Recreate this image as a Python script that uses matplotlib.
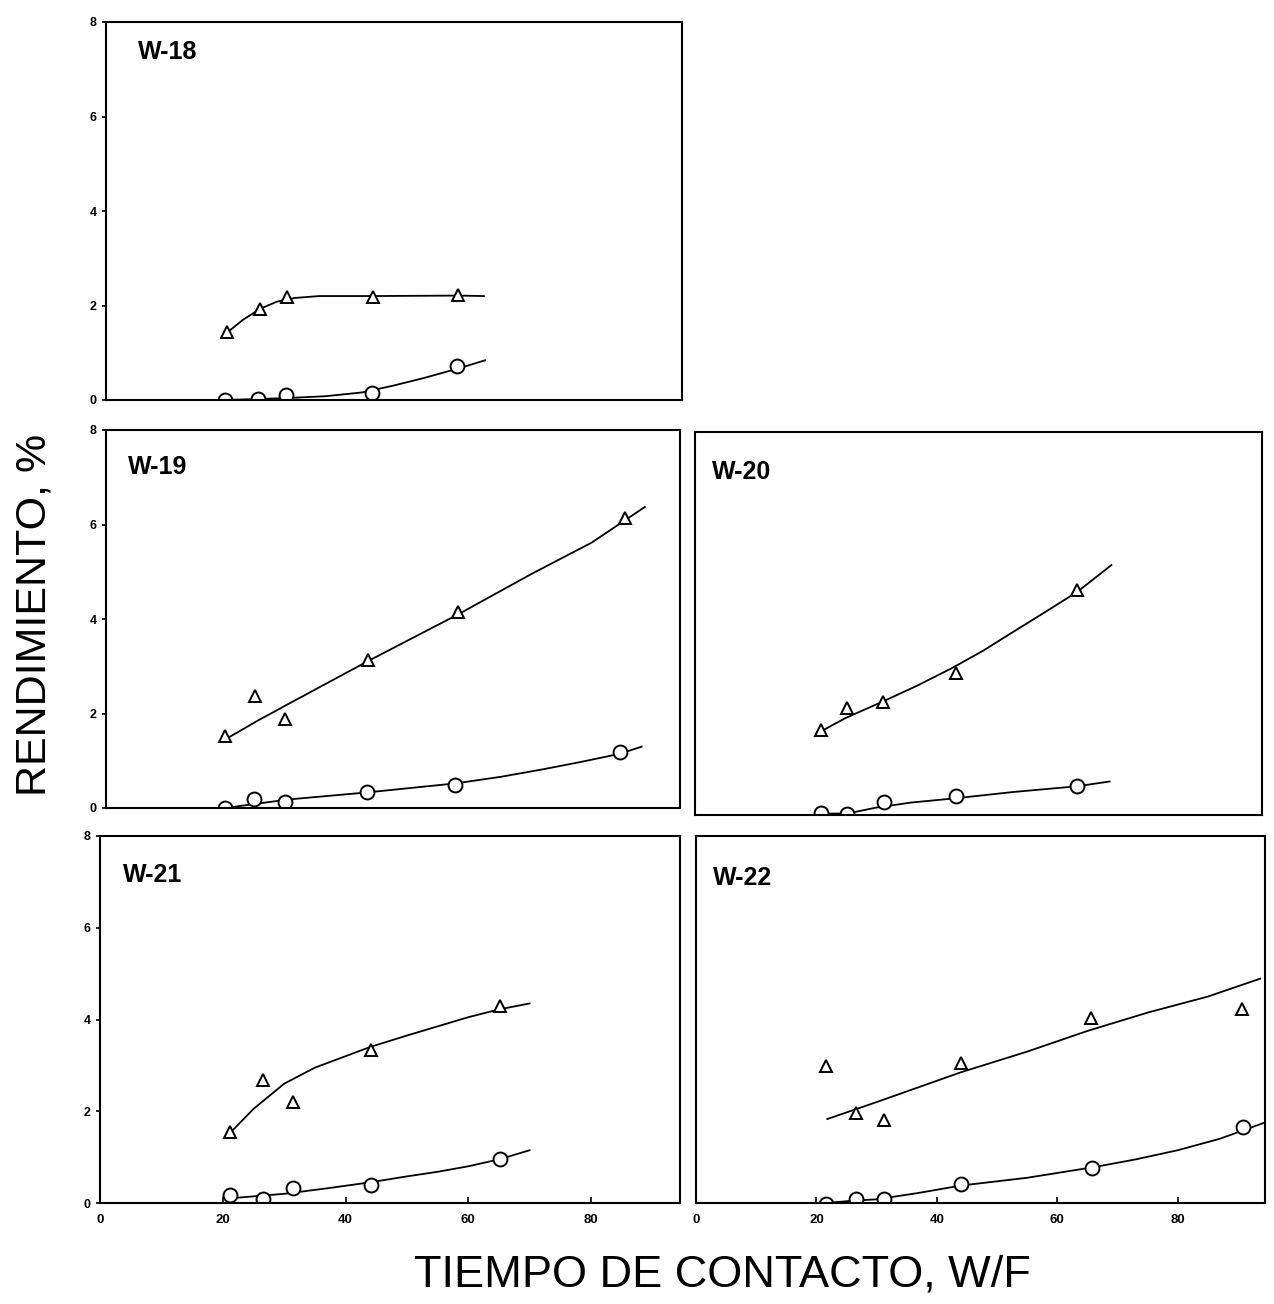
import matplotlib
matplotlib.use("Agg")
import matplotlib.pyplot as plt

plt.rcParams['font.family'] = ['Liberation Sans', 'DejaVu Sans']

# ---- data ----
# W-18
w18_tri_x = [19.9, 25.3, 29.7, 43.8, 57.8]
w18_tri_y = [1.43, 1.93, 2.19, 2.18, 2.23]
w18_tri_fit_x = [19.9, 22.5, 25.3, 28.0, 31.0, 35.0, 43.8, 57.8, 62.0]
w18_tri_fit_y = [1.43, 1.70, 1.93, 2.08, 2.16, 2.20, 2.20, 2.21, 2.20]
w18_cir_x = [19.6, 25.0, 29.5, 43.6, 57.6]
w18_cir_y = [0.00, 0.03, 0.10, 0.14, 0.72]
w18_cir_fit_x = [19.6, 29.5, 36.0, 42.0, 47.0, 52.0, 57.6, 62.2]
w18_cir_fit_y = [0.00, 0.04, 0.08, 0.16, 0.30, 0.46, 0.66, 0.84]

# W-19
w19_tri_x = [19.6, 24.5, 29.5, 43.1, 57.9, 85.4]
w19_tri_y = [1.53, 2.36, 1.88, 3.14, 4.14, 6.13]
w19_tri_fit_x = [19.6, 25.0, 30.0, 43.0, 58.0, 70.0, 80.0, 88.7]
w19_tri_fit_y = [1.45, 1.85, 2.20, 3.10, 4.10, 4.95, 5.62, 6.37]
w19_cir_x = [19.6, 24.4, 29.5, 43.0, 57.5, 84.7]
w19_cir_y = [0.00, 0.20, 0.13, 0.34, 0.49, 1.18]
w19_cir_fit_x = [19.6, 30.0, 43.0, 57.5, 65.0, 72.0, 78.0, 84.7, 88.2]
w19_cir_fit_y = [0.00, 0.18, 0.33, 0.52, 0.66, 0.82, 0.97, 1.15, 1.30]

# W-20
w20_tri_x = [21.0, 25.3, 31.3, 43.5, 63.7]
w20_tri_y = [1.77, 2.24, 2.37, 2.96, 4.70]
w20_tri_fit_x = [20.9, 25.0, 31.3, 37.0, 42.7, 48.0, 53.1, 58.5, 63.7, 69.4]
w20_tri_fit_y = [1.74, 2.02, 2.37, 2.70, 3.06, 3.43, 3.83, 4.25, 4.66, 5.22]
w20_cir_x = [21.0, 25.4, 31.5, 43.5, 63.7]
w20_cir_y = [0.05, 0.03, 0.28, 0.40, 0.61]
w20_cir_fit_x = [21.0, 25.4, 30.0, 36.0, 43.5, 53.0, 63.7, 69.1]
w20_cir_fit_y = [0.03, 0.03, 0.15, 0.26, 0.35, 0.48, 0.60, 0.70]

# W-21
w21_tri_x = [21.2, 26.5, 31.4, 44.2, 65.2]
w21_tri_y = [1.55, 2.68, 2.21, 3.34, 4.29]
w21_tri_fit_x = [21.0, 25.0, 30.0, 35.0, 40.0, 44.0, 50.0, 55.0, 60.0, 65.0, 70.0]
w21_tri_fit_y = [1.50, 2.05, 2.60, 2.95, 3.20, 3.40, 3.65, 3.85, 4.05, 4.22, 4.35]
w21_cir_x = [21.2, 26.5, 31.4, 44.1, 65.2]
w21_cir_y = [0.18, 0.09, 0.33, 0.39, 0.97]
w21_cir_fit_x = [21.0, 30.0, 37.0, 44.0, 50.0, 55.0, 60.0, 65.0, 70.0]
w21_cir_fit_y = [0.10, 0.20, 0.32, 0.45, 0.58, 0.68, 0.80, 0.95, 1.15]

# W-22
w22_tri_x = [21.6, 26.5, 31.2, 44.0, 65.6, 90.6]
w22_tri_y = [2.98, 1.96, 1.82, 3.05, 4.04, 4.22]
w22_tri_fit_x = [21.8, 30.0, 44.0, 55.0, 65.0, 75.0, 85.0, 93.7]
w22_tri_fit_y = [1.83, 2.20, 2.85, 3.30, 3.75, 4.15, 4.50, 4.89]
w22_cir_x = [21.6, 26.5, 31.2, 44.0, 65.8, 90.9]
w22_cir_y = [-0.02, 0.09, 0.09, 0.41, 0.76, 1.65]
w22_cir_fit_x = [21.6, 26.0, 30.0, 37.0, 44.0, 55.0, 66.0, 73.0, 80.0, 87.0, 94.4]
w22_cir_fit_y = [0.00, 0.05, 0.08, 0.22, 0.38, 0.55, 0.78, 0.95, 1.15, 1.40, 1.75]

panels = [
    ("W-18", w18_tri_x, w18_tri_y, w18_tri_fit_x, w18_tri_fit_y,
     w18_cir_x, w18_cir_y, w18_cir_fit_x, w18_cir_fit_y),
    ("W-19", w19_tri_x, w19_tri_y, w19_tri_fit_x, w19_tri_fit_y,
     w19_cir_x, w19_cir_y, w19_cir_fit_x, w19_cir_fit_y),
    ("W-20", w20_tri_x, w20_tri_y, w20_tri_fit_x, w20_tri_fit_y,
     w20_cir_x, w20_cir_y, w20_cir_fit_x, w20_cir_fit_y),
    ("W-21", w21_tri_x, w21_tri_y, w21_tri_fit_x, w21_tri_fit_y,
     w21_cir_x, w21_cir_y, w21_cir_fit_x, w21_cir_fit_y),
    ("W-22", w22_tri_x, w22_tri_y, w22_tri_fit_x, w22_tri_fit_y,
     w22_cir_x, w22_cir_y, w22_cir_fit_x, w22_cir_fit_y),
]

x_ticks = [0, 20, 40, 60, 80]
y_ticks = [0, 2, 4, 6, 8]

W, H = 1274, 1304
fig = plt.figure(figsize=(W / 100, H / 100), dpi=100)

# panel boxes in pixels: left, right, top, bottom
boxes = {
    "W-18": (106, 682, 22, 400),
    "W-19": (106, 680, 430, 808),
    "W-20": (695, 1262, 432, 815),
    "W-21": (100, 680, 836, 1203),
    "W-22": (696, 1265, 836, 1203),
}
# label offset (pixels from top-left corner of each panel)
label_off = {
    "W-18": (32, -30),
    "W-19": (22, -37),
    "W-20": (17, -40),
    "W-21": (23, -39),
    "W-22": (17, -42),
}

for name, tx, ty, tfx, tfy, cx, cy, cfx, cfy in panels:
    l, r, t, b = boxes[name]
    ax = fig.add_axes([l / W, 1 - b / H, (r - l) / W, (b - t) / H])
    ax.plot(tfx, tfy, color='black', lw=1.3)
    ax.plot(cfx, cfy, color='black', lw=1.3)
    ax.plot(tx, ty, linestyle='none', marker='^', markersize=9,
            markerfacecolor='white', markeredgecolor='black', markeredgewidth=1.4)
    ax.plot(cx, cy, linestyle='none', marker='o', markersize=10,
            markerfacecolor='white', markeredgecolor='black', markeredgewidth=1.4)
    ax.set_xlim(0, 94.5)
    ax.set_ylim(0, 8)
    ax.set_xticks(x_ticks)
    ax.set_yticks(y_ticks)
    for s in ax.spines.values():
        s.set_linewidth(1.5)
    ax.tick_params(axis='x', direction='in', length=4, width=1.2)
    ax.tick_params(axis='y', direction='out', length=3, width=1.2)
    if name in ("W-21", "W-22"):
        ax.set_xticklabels([str(v) for v in x_ticks], fontsize=9.5, fontweight='bold')
        ax.tick_params(axis='x', pad=8)
    else:
        ax.set_xticklabels([])
        ax.tick_params(axis='x', length=0)
    if name in ("W-18", "W-19", "W-21"):
        ax.set_yticklabels([str(v) for v in y_ticks], fontsize=9, fontweight='bold')
    else:
        ax.set_yticklabels([])
        ax.tick_params(axis='y', length=0)
    ax.annotate(name, xy=(0, 1), xycoords='axes fraction',
                xytext=label_off[name], textcoords='offset pixels',
                fontsize=18, fontweight='bold', va='center', ha='left')

fig.text(35 / W, 1 - 615 / H, "RENDIMIENTO, %", rotation=90, fontsize=31,
         ha='center', va='center')
fig.text(722 / W, 1 - 1275 / H, "TIEMPO DE CONTACTO, W/F", fontsize=32.5,
         ha='center', va='center')

fig.savefig("out.png", dpi=100)
